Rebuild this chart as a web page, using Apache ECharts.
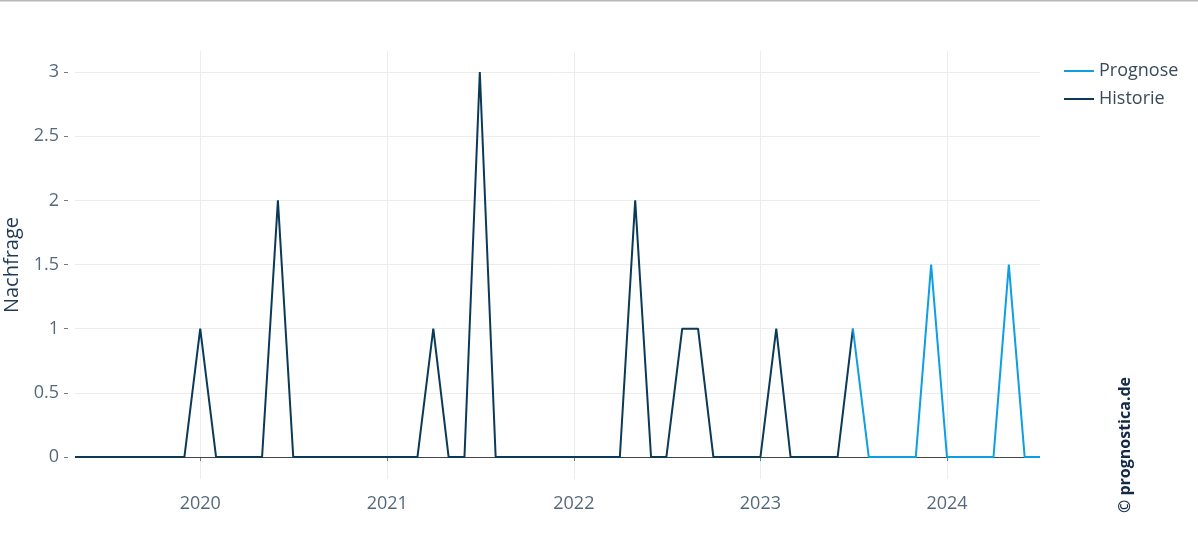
<!DOCTYPE html>
<html>
<head>
<meta charset="utf-8">
<script src="https://cdn.jsdelivr.net/npm/echarts@6/dist/echarts.min.js"></script>
<style>
html,body{margin:0;padding:0;background:#fff;}
#chart{width:1198px;height:548px;}
</style>
</head>
<body>
<div id="chart"></div>
<script>
var histMonths = ['2019-05','2019-06','2019-07','2019-08','2019-09','2019-10','2019-11','2019-12',
  '2020-01','2020-02','2020-03','2020-04','2020-05','2020-06','2020-07','2020-08','2020-09','2020-10','2020-11','2020-12',
  '2021-01','2021-02','2021-03','2021-04','2021-05','2021-06','2021-07','2021-08','2021-09','2021-10','2021-11','2021-12',
  '2022-01','2022-02','2022-03','2022-04','2022-05','2022-06','2022-07','2022-08','2022-09','2022-10','2022-11','2022-12',
  '2023-01','2023-02','2023-03','2023-04','2023-05','2023-06','2023-07'];
var histValues = [0,0,0,0,0,0,0,0,
  1,0,0,0,0,2,0,0,0,0,0,0,
  0,0,0,1,0,0,3,0,0,0,0,0,
  0,0,0,0,2,0,0,1,1,0,0,0,
  0,1,0,0,0,0,1];
var progMonths = ['2023-07','2023-08','2023-09','2023-10','2023-11','2023-12',
  '2024-01','2024-02','2024-03','2024-04','2024-05','2024-06','2024-07'];
var progValues = [1,0,0,0,0,1.5,0,0,0,0,1.5,0,0];
var yTicks = [0,0.5,1,1.5,2,2.5,3];
var xTickYears = ['2020','2021','2022','2023','2024'];
var xMin = '2019-05', xMax = '2024-07';

function ts(m){ var p = m.split('-'); return Date.UTC(+p[0], +p[1]-1, 1); }
function pairs(ms, vs){ return ms.map(function(m,i){ return [ts(m), vs[i]]; }); }
var xTickVals = xTickYears.map(function(y){ return ts(y+'-01'); });

var chart = echarts.init(document.getElementById('chart'));
var labelColor = '#56697c';
chart.setOption({
  backgroundColor:'#fff',
  animation:false,
  grid:{left:75,right:158,top:51,bottom:69,containLabel:false,outerBoundsMode:'none'},
  legend:{
    orient:'vertical', left:1059, top:56, itemWidth:30, itemHeight:2, icon:'rect',
    itemGap:8,
    data:['Prognose','Historie'],
    textStyle:{fontFamily:'Open Sans', fontSize:18, color:'#3a4a5a', lineHeight:20}
  },
  xAxis:{
    type:'value', min:ts(xMin), max:ts(xMax), offset:5,
    axisLine:{show:false},
    axisTick:{show:true, length:4, lineStyle:{color:'#6b7f90'}, customValues:xTickVals},
    axisLabel:{customValues:xTickVals, formatter:function(v){ return new Date(v).getUTCFullYear()+''; },
      fontFamily:'Open Sans', fontSize:18, color:labelColor, margin:11},
    splitLine:{show:true, lineStyle:{color:'#ececec', width:1}}
  },
  yAxis:{
    type:'value', min:-0.171, max:3.164, offset:7,
    name:'Nachfrage', nameLocation:'middle', nameRotate:90, nameGap:39,
    nameTextStyle:{fontFamily:'Open Sans', fontSize:20, color:'#1f3a52'},
    axisLine:{show:false},
    axisTick:{show:true, length:4, lineStyle:{color:'#6b7f90'}, customValues:yTicks},
    axisLabel:{customValues:yTicks, fontFamily:'Open Sans', fontSize:18, color:labelColor, margin:9},
    splitLine:{show:true, lineStyle:{color:'#ececec', width:1}}
  },
  series:[
    {name:'Historie', type:'line', data:pairs(histMonths, histValues), showSymbol:false, symbol:'none',
      lineStyle:{color:'#0a3a58', width:2}, itemStyle:{color:'#0a3a58'}, z:3,
      markLine:{silent:true, symbol:'none', label:{show:false}, animation:false,
        lineStyle:{color:'#444', width:1, type:'solid'}, data:[{yAxis:0}], z:1}},
    {name:'Prognose', type:'line', data:pairs(progMonths, progValues), showSymbol:false, symbol:'none',
      lineStyle:{color:'#0c9fe2', width:2}, itemStyle:{color:'#0c9fe2'}, z:3}
  ],
  graphic:[
    {type:'rect', shape:{x:0,y:0,width:1198,height:1.5}, style:{fill:'#b8b8b8'}, silent:true},
    {type:'text', x:1125, y:445, rotation:Math.PI/2,
      style:{text:'© prognostica.de', font:'bold 16px "Open Sans"', fill:'#14294a', align:'center', verticalAlign:'middle'}}
  ]
});
</script>
</body>
</html>
